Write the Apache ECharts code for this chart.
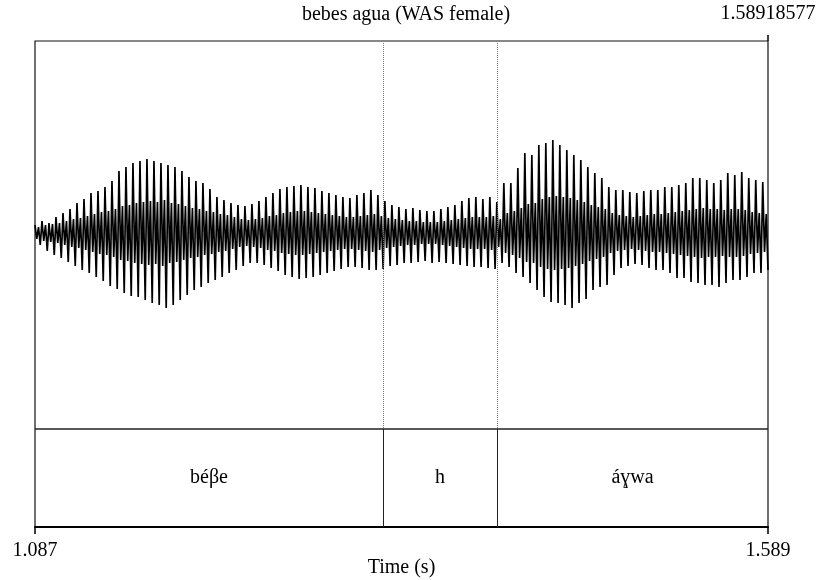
<!DOCTYPE html>
<html>
<head>
<meta charset="utf-8">
<script src="https://cdn.jsdelivr.net/npm/echarts@6/dist/echarts.min.js"></script>
<style>
  html, body { margin: 0; padding: 0; background: #fff; }
  #chart { width: 818px; height: 580px; }
</style>
</head>
<body>
<div id="chart"></div>
<script>
// time range of the selection (s)
const tStart = 1.087
const tEnd = 1.58918577

// one glottal cycle per entry: top spike, inner ripple, bottom spike (amplitude, arbitrary units)
const peakUp = [8,12,10,16,20,24,30,34,40,42, 46,52,62,66,70,72,74,72,70,68,
  66,62,56,52,50,44,36,33,30,28, 27,29,32,36,40,44,46,47,48,46,
  45,42,40,38,36,35,38,40,43,38, 32,28,26,24,25,23,22,22,24,26,
  28,32,35,36,34,36,31,50,50,65, 80,78,88,90,93,88,83,78,73,66,
  60,55,46,43,43,41,40,42,43,43, 46,46,48,50,55,55,53,50,53,60,
  58,61,55,53,51]
const ripple = [6,8,9,10,12,14,15,17,19,21, 22,24,27,28,30,31,32,31,33,30,
  29,27,25,24,22,21,19,18,16,14, 13,14,15,17,18,20,21,22,22,21,
  20,19,18,17,16,16,17,18,19,17, 15,14,13,12,12,11,11,11,12,13,
  14,15,16,16,16,17,14,20,22,25, 29,30,34,36,37,36,35,33,31,28,
  26,24,20,18,17,16,17,18,19,19, 20,21,22,23,24,25,24,24,23,24,
  24,23,21,20,19]
const peakDown = [-12,-18,-22,-25,-29,-33,-37,-40,-44,-48, -53,-56,-60,-63,-64,-67,-70,-72,-75,-72,
  -67,-62,-57,-54,-50,-47,-44,-40,-37,-33, -30,-30,-32,-35,-38,-42,-44,-46,-45,-44,
  -42,-40,-38,-36,-34,-34,-35,-37,-37,-36, -33,-32,-30,-30,-29,-28,-30,-29,-30,-31,
  -32,-33,-34,-34,-35,-36,-30,-34,-40,-44, -50,-57,-64,-69,-70,-72,-75,-70,-66,-57,
  -54,-52,-42,-35,-33,-31,-32,-35,-37,-37, -40,-45,-45,-49,-50,-52,-52,-54,-50,-47,
  -47,-44,-40,-40,-37]

// text tier
const boundaries = [1.087, 1.3254, 1.4035, 1.58918577]
const tierLabels = ['béβe', 'h', 'áɣwa']

const font = 'Liberation Serif'

const wave = []
for (let i = 0; i < peakUp.length; i++) {
  wave.push(peakUp[i], -ripple[i], ripple[i], peakDown[i])
}
const waveCats = wave.map((v, i) => i)

const tierTop = -196
const tierBottom = -294
const waveTop = 192

const lines = []
lines.push([{ coord: [tStart, tierTop] }, { coord: [tEnd, tierTop], lineStyle: { type: 'solid', width: 1.5, color: '#222' } }])
boundaries.slice(1, -1).forEach(b => {
  lines.push([{ coord: [b, waveTop] }, { coord: [b, tierTop], lineStyle: { type: 'dotted', width: 1, color: '#777' } }])
  lines.push([{ coord: [b, tierTop] }, { coord: [b, tierBottom], lineStyle: { type: 'solid', width: 1, color: '#222' } }])
})

const labelData = tierLabels.map((name, i) => ({
  name: name,
  value: [(boundaries[i] + boundaries[i + 1]) / 2, (tierTop + tierBottom) / 2]
}))

const myChart = echarts.init(document.getElementById('chart'))
const option = {
  animation: false,
  textStyle: { fontFamily: font },
  title: {
    text: 'bebes agua (WAS female)',
    left: 401, top: 0, textAlign: 'center',
    textStyle: { fontFamily: font, fontSize: 20, fontWeight: 'normal', color: '#000' }
  },
  grid: {
    left: 35, right: 50, top: 41, bottom: 53,
    outerBoundsMode: 'none', containLabel: false,
    show: true, borderColor: '#111', borderWidth: 1.2
  },
  xAxis: [
    {
      type: 'category', data: waveCats, boundaryGap: false, show: false, position: 'bottom'
    },
    {
      type: 'value', min: tStart, max: tEnd, position: 'bottom',
      name: 'Time (s)', nameLocation: 'middle', nameGap: 31, nameMoveOverlap: false,
      nameTextStyle: { fontFamily: font, fontSize: 20, color: '#000' },
      axisLine: { lineStyle: { color: '#000', width: 2 } },
      axisTick: { customValues: [tStart, tEnd], length: 7, lineStyle: { color: '#000', width: 1.5 } },
      axisLabel: {
        customValues: [tStart, tEnd], margin: 14,
        fontFamily: font, fontSize: 20, color: '#000',
        formatter: v => v.toFixed(3)
      },
      splitLine: { show: false }
    },
    {
      type: 'value', min: tStart, max: tEnd, position: 'top',
      axisLine: { show: false },
      axisTick: { customValues: [tEnd], length: 6, lineStyle: { color: '#000', width: 1.5 } },
      axisLabel: {
        customValues: [tEnd], margin: 17,
        fontFamily: font, fontSize: 20, color: '#000',
        formatter: () => String(tEnd)
      },
      splitLine: { show: false }
    }
  ],
  yAxis: {
    type: 'value', min: tierBottom, max: waveTop, show: false
  },
  series: [
    {
      type: 'line',
      xAxisIndex: 0,
      data: wave,
      showSymbol: false,
      sampling: false,
      lineStyle: { color: '#000', width: 1.7 },
      silent: true
    },
    {
      type: 'scatter',
      xAxisIndex: 1,
      data: labelData,
      symbolSize: 0,
      itemStyle: { opacity: 1 },
      silent: true,
      label: {
        show: true, position: 'inside',
        formatter: p => p.name,
        fontFamily: font, fontSize: 20, color: '#000'
      },
      markLine: {
        silent: true, symbol: 'none', label: { show: false },
        data: lines
      }
    }
  ]
}
myChart.setOption(option)
</script>
</body>
</html>
